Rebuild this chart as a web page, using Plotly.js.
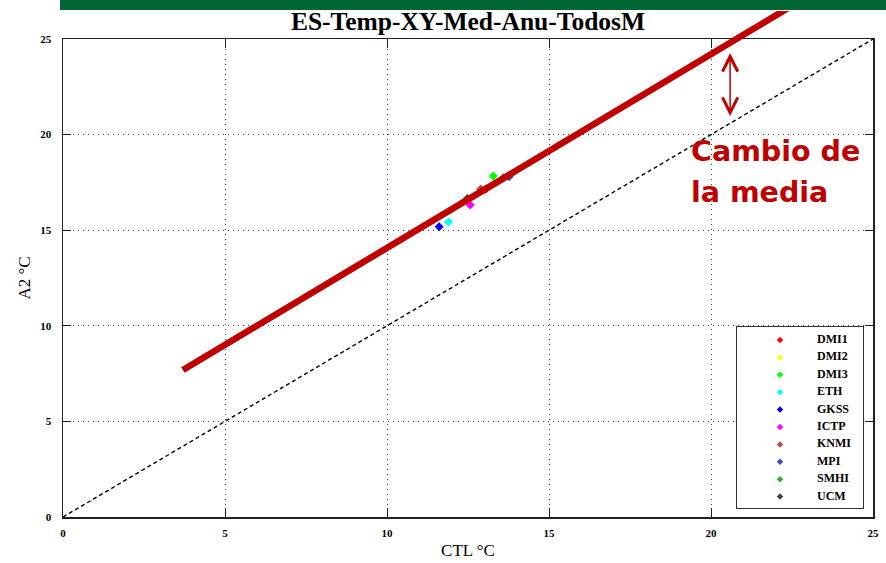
<!DOCTYPE html>
<html>
<head>
<meta charset="utf-8">
<script src="https://cdn.plot.ly/plotly-3.0.1.min.js"></script>
<style>
  html, body { margin: 0; padding: 0; background: #ffffff; }
  #chart { width: 886px; height: 563px; }
</style>
</head>
<body>
<div id="chart"></div>
<script>
// Annual mean temperature over Spain: control run (CTL) vs. A2 scenario, per regional model
const models = ['DMI1', 'DMI2', 'DMI3', 'ETH', 'GKSS', 'ICTP', 'KNMI', 'MPI', 'SMHI', 'UCM'];
const ctlTemp = [13.05, 13.45, 13.28, 11.90, 11.61, 12.57, 12.89, 13.77, 13.60, 12.48];
const a2Temp  = [17.15, 17.55, 17.83, 15.43, 15.18, 16.32, 17.15, 17.80, 17.75, 16.66];

// shifted line showing the change of the mean, and the 1:1 reference line
const shiftCtl = [3.7, 22.5];
const shiftA2  = [7.69, 26.74];
const identity = [0, 25];

// double arrow marking the shift between both lines
const arrowCtl = 20.59;
const arrowA2  = [20.97, 24.34];

const tickVals = [0, 5, 10, 15, 20, 25];
const titleText = 'ES-Temp-XY-Med-Anu-TodosM';
const xTitle = 'CTL °C';
const yTitle = 'A2 °C';
const noteLines = ['Cambio de', 'la media'];

const modelColors = ['#ff0000', '#ffff00', '#00ff00', '#00ffff', '#0000ff',
                     '#ff00ff', '#c04848', '#4848c0', '#30b030', '#404040'];

const W = 886, H = 563;
const M = { l: 63, r: 13, t: 11, b: 46 };
const plotH = H - M.t - M.b;           // 506
const frameH = 478;                    // height of the framed 0..25 area
const yTop = 25 * plotH / frameH;      // value reached at the top of the full plot area

// Marks live on a full-height twin of the framed axes (same pixel scale),
// so the shifted line can run on above the frame up to the green band.
const traces = [];

// 1:1 line
traces.push({
  x: identity, y: identity, xaxis: 'x2', yaxis: 'y2',
  mode: 'lines', hoverinfo: 'skip', showlegend: false,
  line: { color: '#000000', width: 1.4, dash: '4px,3px' }
});

// model points
models.forEach((m, i) => {
  traces.push({
    x: [ctlTemp[i]], y: [a2Temp[i]], xaxis: 'x2', yaxis: 'y2',
    name: m, mode: 'markers', showlegend: false,
    marker: { symbol: 'diamond', size: 7, color: modelColors[i] }
  });
});

// shifted line, on top of the points
traces.push({
  x: shiftCtl, y: shiftA2, xaxis: 'x2', yaxis: 'y2',
  mode: 'lines', hoverinfo: 'skip', showlegend: false,
  line: { color: '#c00000', width: 6.5 }
});

// legend drawn in its own small box
const legendRows = models.map((m, i) => 13 + i * 17.4);
traces.push({
  x: models.map(() => 43), y: legendRows, xaxis: 'x3', yaxis: 'y3',
  mode: 'markers', hoverinfo: 'skip', showlegend: false,
  marker: { symbol: 'diamond', size: 5, color: modelColors }
});
traces.push({
  x: models.map(() => 80), y: legendRows, xaxis: 'x3', yaxis: 'y3',
  mode: 'text', text: models, textposition: 'middle right', hoverinfo: 'skip', showlegend: false,
  textfont: { family: 'Liberation Serif, Times New Roman, serif', size: 12, color: '#000000', weight: 'bold' }
});

const serif = 'Liberation Serif, Times New Roman, serif';
const frameColor = '#20202c';

const legX0 = (737 - M.l) / (W - M.l - M.r), legX1 = (863 - M.l) / (W - M.l - M.r);
const legY0 = (517 - 508) / plotH, legY1 = (517 - 327) / plotH;

const layout = {
  width: W, height: H,
  margin: M,
  paper_bgcolor: '#ffffff',
  plot_bgcolor: 'rgba(0,0,0,0)',
  showlegend: false,
  title: {
    text: titleText,
    font: { family: serif, size: 25.5, color: '#000000', weight: 'bold' },
    x: 0.5, xref: 'paper', xanchor: 'center',
    y: 1 - 21.5 / H, yref: 'container', yanchor: 'middle'
  },
  xaxis: {
    domain: [0, 1], range: [0, 25], tickvals: tickVals, ticktext: tickVals.map(String),
    showgrid: true, gridcolor: '#444444', griddash: '1px,4px', gridwidth: 1,
    zeroline: false, showline: true, linecolor: frameColor, linewidth: 1.5, mirror: 'ticks',
    ticks: 'inside', ticklen: 9, tickcolor: frameColor, tickwidth: 1,
    ticklabelstandoff: 5,
    tickfont: { family: serif, size: 11, color: '#000000', weight: 'bold' },
    title: { text: xTitle, font: { family: serif, size: 17, color: '#000000' }, standoff: 6 },
    fixedrange: true
  },
  yaxis: {
    domain: [0, frameH / plotH], range: [0, 25], tickvals: tickVals, ticktext: tickVals.map(String),
    showgrid: true, gridcolor: '#444444', griddash: '1px,4px', gridwidth: 1,
    zeroline: false, showline: true, linecolor: frameColor, linewidth: 1.5, mirror: 'ticks',
    ticks: 'inside', ticklen: 8, tickcolor: frameColor, tickwidth: 1,
    ticklabelstandoff: 8,
    tickfont: { family: serif, size: 11, color: '#000000', weight: 'bold' },
    title: { text: yTitle, font: { family: serif, size: 17, color: '#000000' }, standoff: 5 },
    fixedrange: true
  },
  xaxis2: { domain: [0, 1], range: [0, 25], anchor: 'y2', visible: false, fixedrange: true },
  yaxis2: { domain: [0, 1], range: [0, yTop], anchor: 'x2', visible: false, fixedrange: true },
  xaxis3: {
    domain: [legX0, legX1], range: [0, 126], anchor: 'y3',
    showgrid: false, zeroline: false, showticklabels: false, ticks: '',
    showline: true, mirror: true, linecolor: '#333333', linewidth: 1, fixedrange: true
  },
  yaxis3: {
    domain: [legY0, legY1], range: [181, 0], anchor: 'x3',
    showgrid: false, zeroline: false, showticklabels: false, ticks: '',
    showline: true, mirror: true, linecolor: '#333333', linewidth: 1, fixedrange: true
  },
  shapes: [
    // white fill behind the legend entries
    { type: 'rect', xref: 'x3', yref: 'y3', x0: 0, x1: 126, y0: 0, y1: 181,
      fillcolor: '#ffffff', line: { width: 0 }, layer: 'below' },
    // green band across the top
    { type: 'rect', xref: 'paper', yref: 'paper',
      x0: (60 - M.l) / (W - M.l - M.r), x1: (W + 2 - M.l) / (W - M.l - M.r),
      y0: 1 + 1 / plotH, y1: 1 + (M.t + 4) / plotH,
      fillcolor: '#006633', line: { width: 0 }, layer: 'above' }
  ],
  annotations: [
    {
      x: arrowCtl, y: arrowA2[0], ax: arrowCtl, ay: arrowA2[1],
      xref: 'x', yref: 'y', axref: 'x', ayref: 'y',
      text: '', showarrow: true, arrowside: 'end+start',
      arrowhead: 5, startarrowhead: 5, arrowsize: 2, startarrowsize: 2,
      arrowwidth: 1.5, arrowcolor: '#c00000'
    },
    {
      text: noteLines[0], xref: 'paper', yref: 'paper',
      x: (689 - M.l) / (W - M.l - M.r), y: (517 - 152) / plotH,
      xanchor: 'left', yanchor: 'middle', showarrow: false,
      font: { family: 'DejaVu Sans, Verdana, sans-serif', size: 28.5, color: '#c00000', weight: 'bold' }
    },
    {
      text: noteLines[1], xref: 'paper', yref: 'paper',
      x: (689 - M.l) / (W - M.l - M.r), y: (517 - 192) / plotH,
      xanchor: 'left', yanchor: 'middle', showarrow: false,
      font: { family: 'DejaVu Sans, Verdana, sans-serif', size: 28.5, color: '#c00000', weight: 'bold' }
    }
  ]
};

Plotly.newPlot('chart', traces, layout, { displayModeBar: false, staticPlot: true });
</script>
</body>
</html>
